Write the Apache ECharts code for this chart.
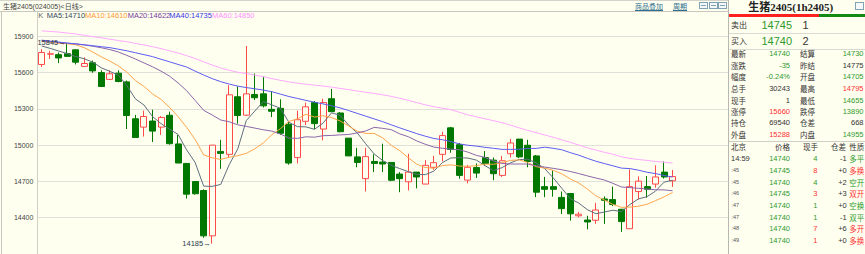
<!DOCTYPE html>
<html><head><meta charset="utf-8">
<script src="https://cdn.jsdelivr.net/npm/echarts@6/dist/echarts.min.js"></script>
<style>
body{margin:0;background:#FFFFF0;}
#wrap{position:relative;width:865px;height:254px;overflow:hidden;background:#FFFFF0;font-family:"Liberation Sans","Noto Sans CJK SC",sans-serif;}
#chart{position:absolute;left:0;top:0;width:728px;height:254px;}
.t{position:absolute;white-space:nowrap;line-height:1;}
.ln{position:absolute;}
</style></head><body>
<div id="wrap"><div id="chart"></div></div>
<script>
// ---- chart data (daily K) ----
const opens = [15667,15752,15748,15756,15788,15651,15681,15600,15544,15595,
15523,15218,15149,15199,15149,15247,15010,14849,14699,14625,
14250,14948,14924,15400,15248,15419,15424,15296,15304,15173,
14897,15197,15352,15133,15384,15266,15058,14903,14723,14865,
14860,14857,14761,14697,14777,14678,14817,14924,15143,15004,
14711,14815,14897,14876,14750,14929,15050,14999,14911,14657,
14657,14568,14600,14416,14381,14379,14555,14550,14470,14309,
14616,14657,14678,14777,14705];
const closes = [15766,15755,15721,15734,15686,15675,15614,15485,15590,15526,
15245,15063,15237,15116,15229,15012,14852,14595,14598,14250,
15000,14932,15416,15245,15424,15392,15325,15280,15098,14852,
15210,15317,15178,15352,15277,15111,14911,14857,14905,14849,
14844,14710,14723,14777,14737,14833,14855,15079,14964,14750,
14817,14769,14849,14764,14871,15018,14903,14865,14611,14635,
14635,14475,14432,14429,14365,14464,14544,14510,14368,14657,
14702,14635,14737,14737,14740];
const lows = [15646,15713,15678,15730,15667,15651,15598,15480,15539,15520,
15133,15063,15071,15026,15084,15004,14852,14558,14590,14234,
14185,14804,14897,15178,15243,15373,15312,15232,15084,14838,
14849,15165,15133,15039,15272,15106,14911,14817,14617,14777,
14777,14702,14611,14625,14643,14678,14796,14865,14937,14723,
14684,14729,14830,14710,14737,14897,14892,14817,14570,14570,
14574,14430,14376,14403,14304,14349,14349,14496,14283,14309,
14550,14566,14648,14724,14655];
const highs = [15793,15780,15766,15845,15793,15726,15700,15619,15619,15619,
15534,15250,15285,15293,15240,15277,15084,14849,14699,14635,
15000,15044,15496,15486,15820,15592,15565,15445,15379,15191,
15285,15352,15365,15384,15464,15272,15058,14978,14978,14924,
15012,14857,14777,14929,14777,14876,14911,15111,15151,15018,
14836,14849,14951,14897,14911,15052,15050,15044,14919,14737,
14790,14617,14600,14448,14416,14523,14576,14657,14470,14799,
14742,14745,14833,14865,14795];
const ma5 = [15820,15800,15778,15757,15732,15714,15686,15639,15610,15578,
15492,15382,15332,15237,15178,15131,15089,14961,14857,14661,
14659,14675,14839,14969,15203,15282,15360,15333,15304,15189,
15153,15151,15131,15182,15267,15247,15166,15102,15012,14927,
14873,14833,14806,14781,14758,14756,14785,14856,14894,14896,
14893,14876,14830,14790,14814,14854,14881,14884,14854,14806,
14730,14644,14558,14521,14467,14433,14447,14462,14450,14509,
14556,14574,14620,14694,14710];
const ma10 = [15860,15850,15842,15838,15830,15805,15770,15730,15695,15655,
15603,15534,15486,15424,15378,15312,15236,15147,15047,14920,
14895,14882,14900,14913,14932,14970,15018,15086,15136,15196,
15217,15256,15232,15243,15228,15200,15159,15116,15097,15097,
15060,14999,14954,14896,14842,14815,14809,14831,14837,14827,
14825,14830,14843,14842,14855,14874,14878,14857,14822,14810,
14792,14763,14721,14687,14637,14581,14546,14510,14486,14488,
14495,14511,14541,14572,14609];
const ma20 = [15862,15856,15850,15843,15836,15828,15818,15805,15790,15770,
15742,15712,15680,15648,15612,15570,15515,15450,15370,15288,
15249,15208,15193,15168,15155,15141,15127,15116,15092,15058,
15056,15069,15066,15078,15080,15085,15088,15101,15117,15147,
15139,15128,15093,15070,15035,15007,14984,14974,14967,14962,
14942,14915,14899,14869,14849,14844,14844,14844,14829,14819,
14808,14797,14782,14765,14746,14728,14712,14684,14654,14649,
14643,14637,14631,14630,14623];
const ma40 = [15868,15860,15852,15844,15838,15830,15822,15814,15806,15793,
15780,15764,15748,15732,15710,15689,15667,15646,15612,15580,
15550,15525,15505,15488,15476,15466,15455,15442,15422,15402,
15386,15370,15355,15341,15326,15308,15286,15263,15240,15217,
15194,15168,15143,15119,15095,15074,15055,15045,15029,15010,
14999,14992,14982,14974,14965,14965,14966,14973,14973,14983,
14974,14962,14938,14917,14891,14867,14848,14829,14810,14806,
14793,14776,14765,14749,14736];
const ma60 = [15945,15940,15935,15927,15919,15908,15897,15887,15876,15865,
15855,15841,15828,15814,15798,15780,15761,15740,15716,15689,
15662,15638,15619,15603,15592,15579,15566,15550,15536,15523,
15512,15504,15496,15488,15480,15469,15459,15448,15437,15427,
15416,15403,15387,15371,15352,15333,15317,15306,15293,15272,
15250,15234,15218,15202,15186,15165,15143,15122,15103,15084,
15065,15044,15023,15001,14979,14959,14941,14925,14904,14890,
14881,14874,14865,14859,14851];
const days = opens.map((_, i) => 'D' + (i + 1));
const yTickMin = 14100, yTickMax = 16200, yTickStep = 300;

// ---- header / legend ----
const headerTitle = '生猪2405(024005)<日线>';
const headerLinks = ['商品叠加', '周期'];
const legendNames = ['K', 'MA5:14710', 'MA10:14610', 'MA20:14622', 'MA40:14735', 'MA60:14850'];

// ---- quote panel ----
const panelTitle = '生猪2405(1h2405)';
const askRow = ['卖出', '14745', '1'];
const bidRow = ['买入', '14740', '2'];
const quoteLeftLabels = ['最新','涨跌','幅度','总手','现手','涨停','持仓','外盘'];
const quoteLeftValues = ['14740','-35','-0.24%','30243','1','15660','69540','15288'];
const quoteRightLabels = ['结算','昨结','开盘','最高','最低','跌停','仓差','内盘'];
const quoteRightValues = ['14730','14775','14705','14795','14655','13890','668','14955'];
const tradeHead = ['北京','价格','现手','仓差','性质'];
const tradeTimes = ['14:59',':45',':45',':46',':47',':47',':48',':49'];
const tradePrices = ['14740','14745','14740','14745','14740','14740','14740','14740'];
const tradeVols = ['4','8','4','3','1','1','7','1'];
const tradeOI = ['-1','+0','+2','+3','+0','-1','+6','+0'];
const tradeNature = ['多平','多换','空开','双开','空换','双平','多开','多换'];

// ---- styles ----
const G = '#2E9A2E', R = '#FF3030', D = '#333333';
const leftValColors = [G,G,G,D,D,R,D,R];
const rightValColors = [G,D,G,R,G,G,D,G];
const volColors = [G,R,G,R,G,G,R,R];
const natureColors = [G,R,G,R,G,G,R,R];
const legendColors = ['#666666','#34485C','#FF9830','#74409A','#3838E0','#FF90FF'];
const lineColors = ['#5E6E7E','#FFA54A','#8C66AA','#5C5CF2','#FFA8FF'];

const wrap = document.getElementById('wrap');
function T(s, x, y, size, color, o) {
  o = o || {};
  const e = document.createElement('span');
  e.className = 't'; e.textContent = s;
  e.style.fontSize = size + 'px'; e.style.color = color;
  if (o.right) e.style.right = (865 - x) + 'px'; else e.style.left = x + 'px';
  e.style.top = (y - size / 2) + 'px';
  if (o.bold) e.style.fontWeight = 'bold';
  if (o.family) e.style.fontFamily = o.family;
  if (o.u) e.style.textDecoration = 'underline';
  wrap.appendChild(e);
}
function L(x, y, w, h, c) {
  const e = document.createElement('div');
  e.className = 'ln';
  e.style.left = x + 'px'; e.style.top = y + 'px';
  e.style.width = w + 'px'; e.style.height = h + 'px';
  e.style.background = c;
  wrap.appendChild(e);
}

// ---- chart ----
const chart = echarts.init(document.getElementById('chart'), null, {renderer: 'svg'});
const kData = opens.map((o, i) => [o, closes[i], lows[i], highs[i]]);
const cats = days.concat(['', '', '', '', '', '']);
const maList = [ma5, ma10, ma20, ma40, ma60];
chart.setOption({
  animation: false,
  backgroundColor: 'transparent',
  grid: {left: 37.4, top: -5.73, width: 692.55, height: 261.8},
  xAxis: {type: 'category', data: cats, boundaryGap: true, show: false},
  yAxis: {
    type: 'value', min: yTickMin, max: yTickMax, interval: yTickStep,
    axisLine: {show: false}, axisTick: {show: false},
    axisLabel: {fontSize: 7, color: '#444', margin: 4, showMinLabel: false, showMaxLabel: false,
      fontFamily: 'Liberation Sans', formatter: v => String(v)},
    splitLine: {lineStyle: {color: '#E0E0D8', width: 1}}
  },
  series: [{
    type: 'candlestick', data: kData, barWidth: 6.5,
    itemStyle: {color: '#FFFFF0', color0: '#007800', borderColor: '#FF4A4A', borderColor0: '#007800',
      borderColorDoji: '#FF4A4A', borderWidth: 1},
    markPoint: {
      symbol: 'circle', symbolSize: 1, itemStyle: {color: 'rgba(0,0,0,0)'},
      label: {show: true, position: 'left', distance: 1, formatter: p => p.value + '→',
        fontSize: 7.5, color: '#2A3A4A', fontFamily: 'Liberation Sans'},
      data: [{type: 'max', valueDim: 'highest'}, {type: 'min', valueDim: 'lowest'}]
    }
  }].concat(maList.map((d, i) => ({
    type: 'line', data: d, symbol: 'none', silent: true, clip: false,
    lineStyle: {width: 1, color: lineColors[i]}, z: 3
  })))
});

// ---- frame lines ----
L(0, 0, 728, 1, '#D4D4CC');
L(0, 11, 728, 1, '#C8C8C0');
L(1, 11, 1, 243, '#C8C8C0');
L(37, 12, 1, 242, '#CFCFC8');
L(728, 0, 1, 254, '#B8B8B0');
L(729, 14, 90, 2.5, '#FF2020');
L(819, 14, 46, 2.5, '#138A13');
L(729, 33, 136, 1, '#DADAD2');
L(729, 49, 136, 1, '#DADAD2');
L(729, 141, 136, 1, '#CFCFC8');

// ---- header ----
T(headerTitle, 3, 6, 7, '#444');
T(headerLinks[0], 635, 6, 7, '#2E6E8E', {u: true});
T(headerLinks[1], 673, 6, 7, '#2E6E8E', {u: true});
// small toolbar icons
[699, 708.5, 718].forEach(x => {
  const e = document.createElement('div');
  e.style.cssText = 'position:absolute;left:' + x + 'px;top:2px;width:7px;height:5px;border:1px solid #7FA3B5;background:#F4F8F8;';
  const m = document.createElement('div');
  m.style.cssText = 'position:absolute;left:1px;top:2px;width:5px;height:1px;background:#7FA3B5;';
  e.appendChild(m);
  wrap.appendChild(e);
});
{
  const e = document.createElement('div');
  e.style.cssText = 'position:absolute;left:855px;top:2px;width:7px;height:6px;border:1px solid #7FA3B5;background:#F4F8F8;';
  wrap.appendChild(e);
}

// legend
const legX = [38.3, 46.7, 85, 127.7, 169.3, 212];
legendNames.forEach((s, i) => T(s, legX[i], 16, 7.5, legendColors[i]));

// ---- quote panel ----
T(panelTitle, 748.3, 7.2, 11, '#222', {bold: true, family: '"Liberation Serif","Noto Sans CJK SC",serif'});
T(askRow[0], 731, 25, 8, D, {family: '"Noto Sans CJK SC"'});
T(askRow[1], 761.5, 25, 11, G);
T(askRow[2], 802.5, 25, 11, D);
T(bidRow[0], 731, 41, 8, D, {family: '"Noto Sans CJK SC"'});
T(bidRow[1], 761.5, 41, 11, G);
T(bidRow[2], 802.5, 41, 11, D);
const rowY = [54, 65.5, 77.2, 88.8, 100.3, 111.7, 123, 134.3];
rowY.forEach((y, i) => {
  T(quoteLeftLabels[i], 731, y, 7.5, D, {family: '"Noto Sans CJK SC"'});
  T(quoteLeftValues[i], 790, y, 7.5, leftValColors[i], {right: true});
  T(quoteRightLabels[i], 800, y, 7.5, D, {family: '"Noto Sans CJK SC"'});
  T(quoteRightValues[i], 863.5, y, 7.5, rightValColors[i], {right: true});
});
// trades
T(tradeHead[0], 731, 147, 7.5, D, {family: '"Noto Sans CJK SC"'});
T(tradeHead[1], 790, 147, 7.5, D, {right: true, family: '"Noto Sans CJK SC"'});
T(tradeHead[2], 818, 147, 7.5, D, {right: true, family: '"Noto Sans CJK SC"'});
T(tradeHead[3], 846, 147, 7.5, D, {right: true, family: '"Noto Sans CJK SC"'});
T(tradeHead[4], 849.3, 147, 7.5, D, {family: '"Noto Sans CJK SC"'});
tradeTimes.forEach((t, i) => {
  const y = 159 + i * 11.67;
  if (i === 0) T(t, 731, y, 7.5, D); else T(t, 731.5, y, 5.5, '#555');
  T(tradePrices[i], 790, y, 7.5, G, {right: true});
  T(tradeVols[i], 817.3, y, 7.5, volColors[i], {right: true});
  T(tradeOI[i], 846.7, y, 7.5, D, {right: true});
  T(tradeNature[i], 849.3, y, 7.5, natureColors[i], {family: '"Noto Sans CJK SC"'});
});
</script>
</body></html>
